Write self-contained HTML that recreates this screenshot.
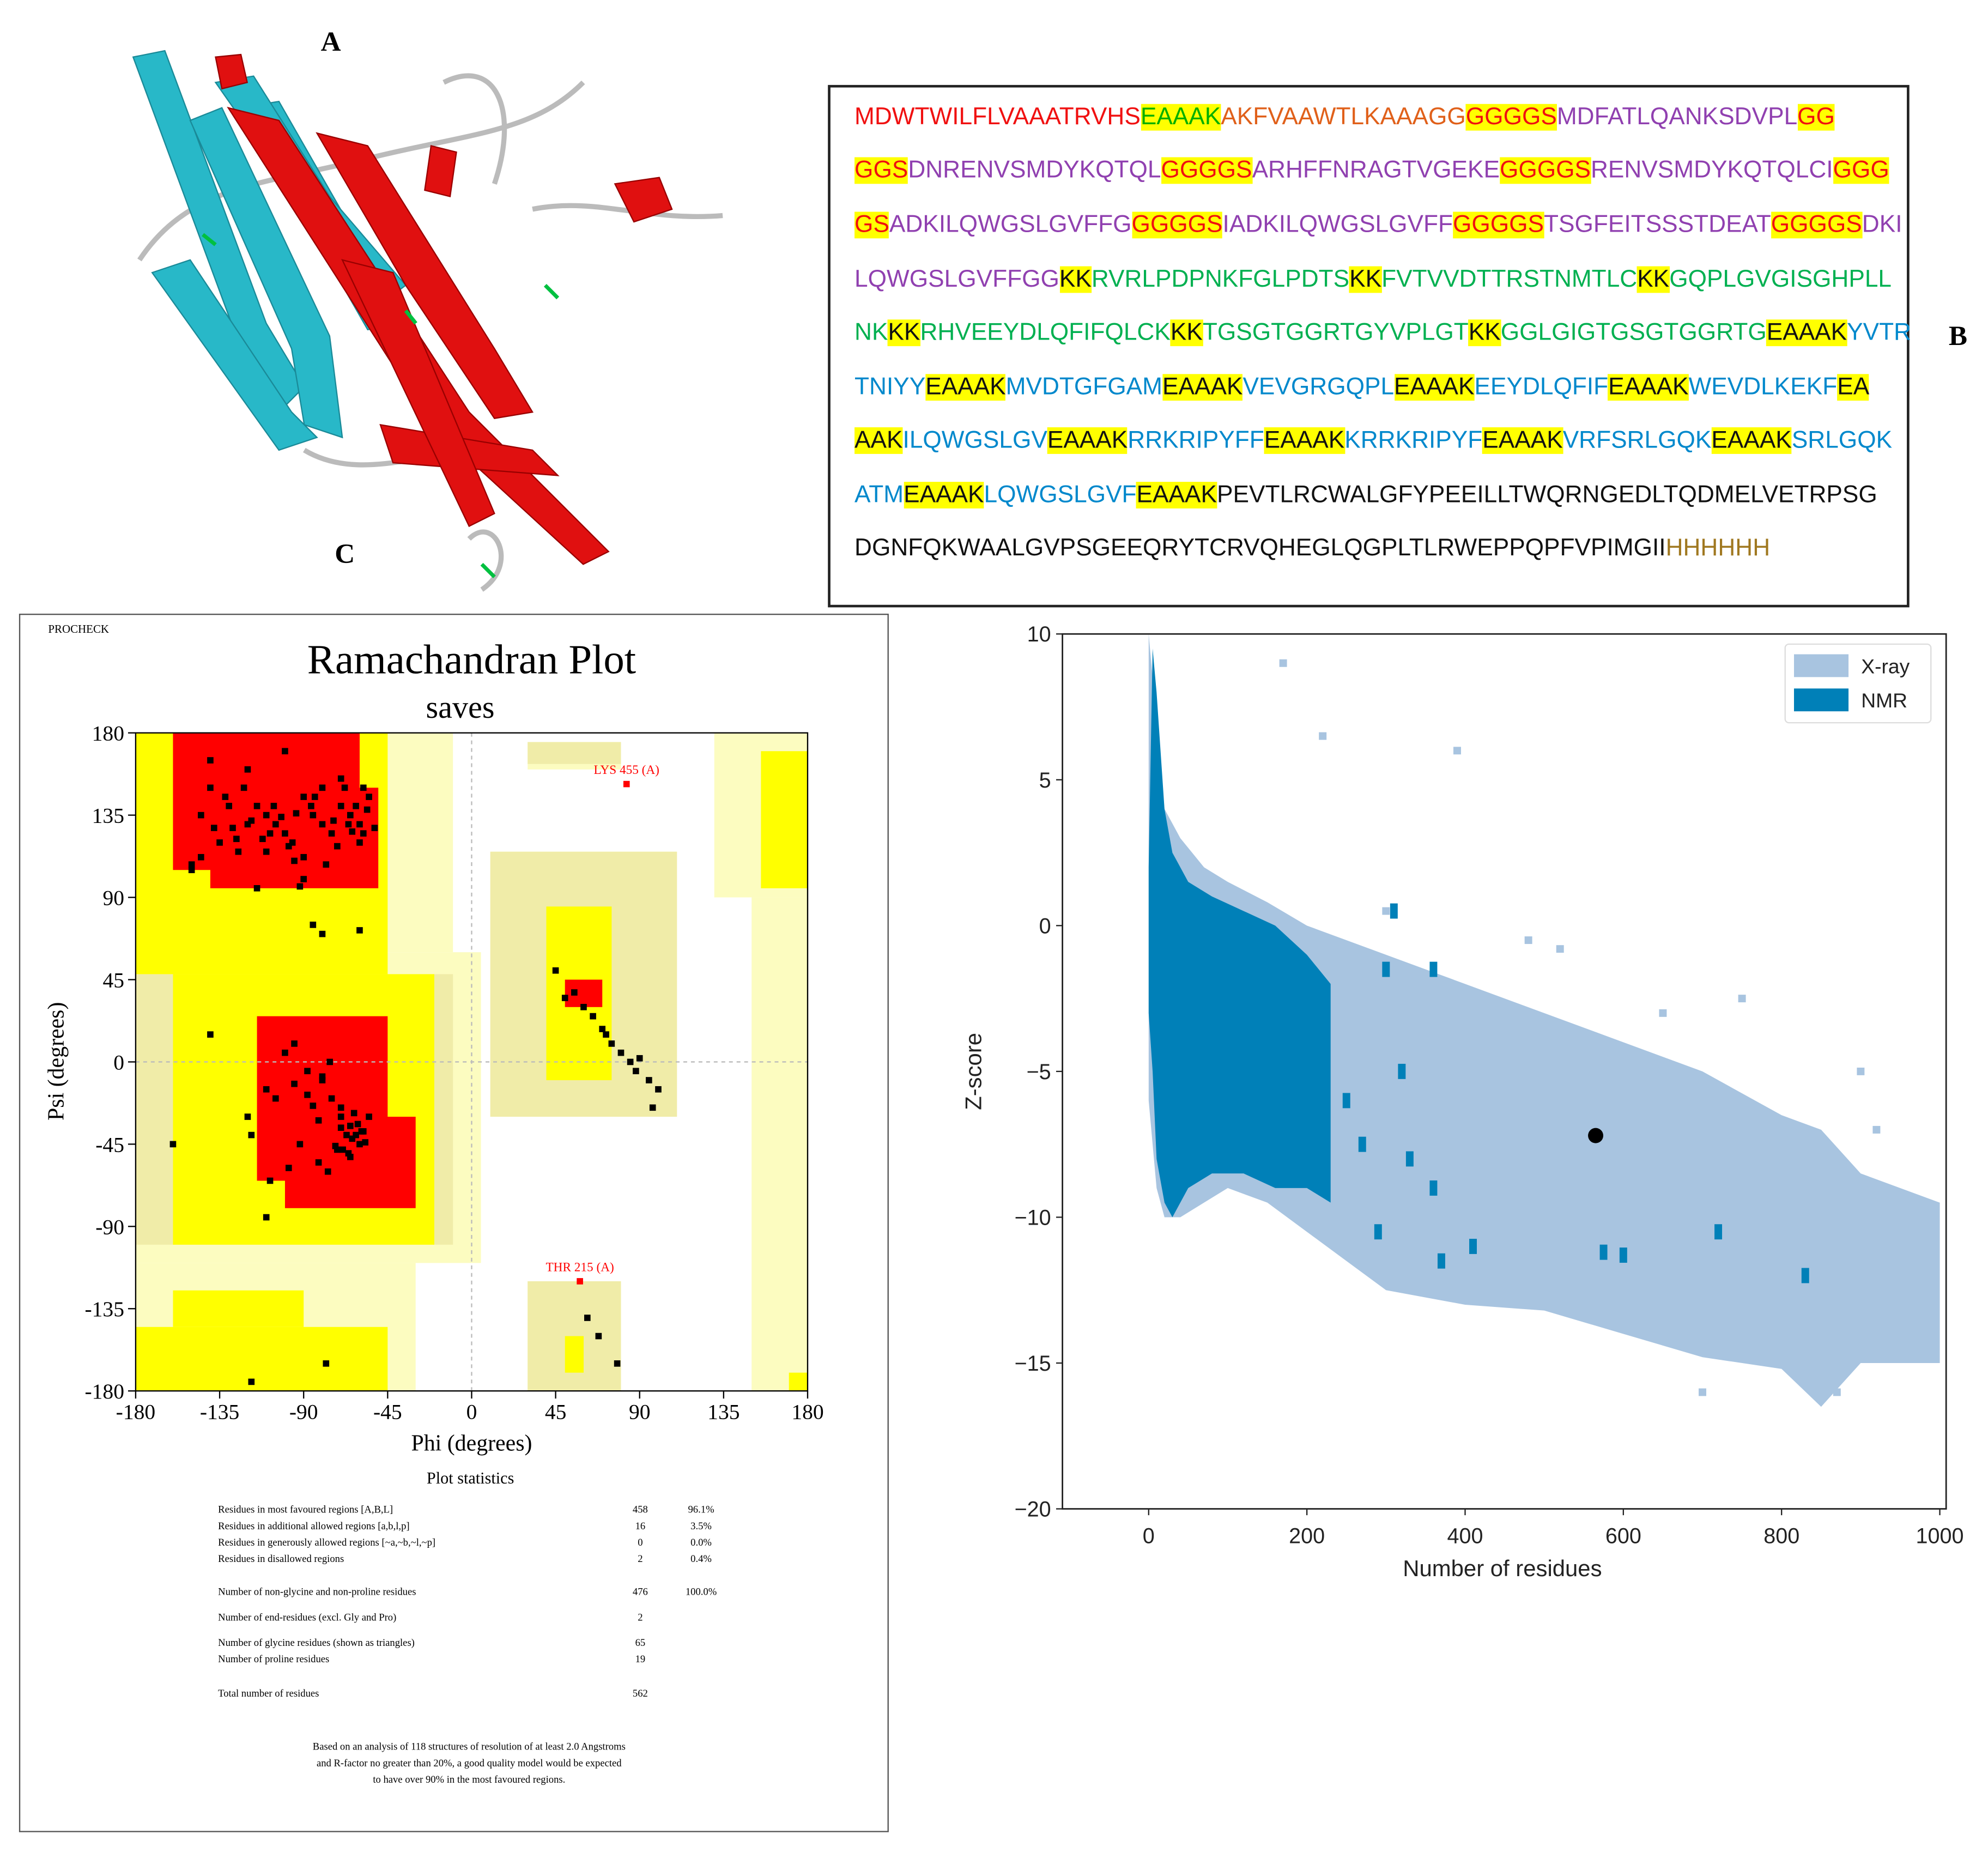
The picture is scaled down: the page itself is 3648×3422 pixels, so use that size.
<!DOCTYPE html>
<html><head><meta charset="utf-8">
<style>
html,body{margin:0;padding:0;background:#fff;width:3648px;height:3422px;overflow:hidden}
#wrap{position:absolute;left:0;top:0;width:1568px;height:1471px;transform:scale(2.3265);transform-origin:0 0;font-family:"Liberation Sans",sans-serif}
.lbl{position:absolute;font-family:"Liberation Serif",serif;font-weight:bold;font-size:22px}
#seqbox{position:absolute;left:653px;top:67px;width:853px;height:412px;border:2px solid #222;box-sizing:border-box}
.sl{position:absolute;left:19px;font-size:19px;letter-spacing:0px;white-space:nowrap;font-family:"Liberation Sans",sans-serif}
.h{background:#ffff00}
.r{color:#f01010}.o{color:#e0601a}.p{color:#9040b0}.g{color:#00b050}.b{color:#0088cc}.k{color:#111}.br{color:#a07820}.gr{color:#00b000}
</style></head><body>
<div id="wrap">

<div class="lbl" style="left:253px;top:20px">A</div>
<div class="lbl" style="left:264px;top:424px">C</div>
<div class="lbl" style="left:1537px;top:252px">B</div>

<svg style="position:absolute;left:90px;top:25px" width="510" height="450">
 <g fill="none" stroke="#bbb" stroke-width="4">
  <path d="M20 180 C60 120 120 120 200 100 S330 80 370 40"/>
  <path d="M260 40 C300 20 320 60 300 120"/>
  <path d="M330 140 C380 130 420 150 480 145"/>
  <path d="M150 330 C200 360 260 320 300 340"/>
  <path d="M280 400 C300 380 320 420 290 440"/>
 </g>
 <g fill="#28b8c8" stroke="#1a8a98" stroke-width="1">
  <path d="M15 20 L40 15 L120 230 L150 280 L130 300 L100 250 Z"/>
  <path d="M60 70 L85 60 L170 240 L180 320 L150 310 L140 250 Z"/>
  <path d="M100 60 L130 55 L230 230 L200 235 Z"/>
  <path d="M30 190 L60 180 L140 300 L160 320 L130 330 Z"/>
  <path d="M80 40 L110 35 L170 130 L230 200 L210 215 L150 140 Z"/>
 </g>
 <g fill="#e01010" stroke="#900" stroke-width="1">
  <path d="M90 60 L130 70 L280 300 L390 410 L370 420 L250 310 Z"/>
  <path d="M160 80 L200 90 L300 250 L330 300 L300 305 L230 200 Z"/>
  <path d="M210 310 L330 330 L350 350 L220 340 Z"/>
  <path d="M180 180 L220 190 L300 380 L280 390 Z"/>
  <path d="M395 120 L430 115 L440 140 L410 150 Z"/>
  <path d="M250 90 L270 95 L265 130 L245 125 Z"/>
  <path d="M80 20 L100 18 L105 40 L85 45 Z"/>
 </g>
 <g stroke="#00c040" stroke-width="3" fill="none">
  <path d="M70 160 l10 8"/><path d="M230 220 l8 10"/><path d="M340 200 l10 10"/><path d="M290 420 l10 10"/>
 </g>
</svg>

<div id="seqbox">
 <div class="sl" style="top:13px"><span class="r">MDWTWILFLVAAATRVHS</span><span class="h gr">EAAAK</span><span class="o">AKFVAAWTLKAAAGG</span><span class="h r">GGGGS</span><span class="p">MDFATLQANKSDVPL</span><span class="h r">GG</span></div>
 <div class="sl" style="top:55px"><span class="h r">GGS</span><span class="p">DNRENVSMDYKQTQL</span><span class="h r">GGGGS</span><span class="p">ARHFFNRAGTVGEKE</span><span class="h r">GGGGS</span><span class="p">RENVSMDYKQTQLCI</span><span class="h r">GGG</span></div>
 <div class="sl" style="top:98px"><span class="h r">GS</span><span class="p">ADKILQWGSLGVFFG</span><span class="h r">GGGGS</span><span class="p">IADKILQWGSLGVFF</span><span class="h r">GGGGS</span><span class="p">TSGFEITSSSTDEAT</span><span class="h r">GGGGS</span><span class="p">DKI</span></div>
 <div class="sl" style="top:141px"><span class="p">LQWGSLGVFFGG</span><span class="h k">KK</span><span class="g">RVRLPDPNKFGLPDTS</span><span class="h k">KK</span><span class="g">FVTVVDTTRSTNMTLC</span><span class="h k">KK</span><span class="g">GQPLGVGISGHPLL</span></div>
 <div class="sl" style="top:183px"><span class="g">NK</span><span class="h k">KK</span><span class="g">RHVEEYDLQFIFQLCK</span><span class="h k">KK</span><span class="g">TGSGTGGRTGYVPLGT</span><span class="h k">KK</span><span class="g">GGLGIGTGSGTGGRTG</span><span class="h k">EAAAK</span><span class="b">YVTR</span></div>
 <div class="sl" style="top:226px"><span class="b">TNIYY</span><span class="h k">EAAAK</span><span class="b">MVDTGFGAM</span><span class="h k">EAAAK</span><span class="b">VEVGRGQPL</span><span class="h k">EAAAK</span><span class="b">EEYDLQFIF</span><span class="h k">EAAAK</span><span class="b">WEVDLKEKF</span><span class="h k">EA</span></div>
 <div class="sl" style="top:268px"><span class="h k">AAK</span><span class="b">ILQWGSLGV</span><span class="h k">EAAAK</span><span class="b">RRKRIPYFF</span><span class="h k">EAAAK</span><span class="b">KRRKRIPYF</span><span class="h k">EAAAK</span><span class="b">VRFSRLGQK</span><span class="h k">EAAAK</span><span class="b">SRLGQK</span></div>
 <div class="sl" style="top:311px"><span class="b">ATM</span><span class="h k">EAAAK</span><span class="b">LQWGSLGVF</span><span class="h k">EAAAK</span><span class="k">PEVTLRCWALGFYPEEILLTWQRNGEDLTQDMELVETRPSG</span></div>
 <div class="sl" style="top:353px"><span class="k">DGNFQKWAALGVPSGEEQRYTCRVQHEGLQGPLTLRWEPPQPFVPIMGII</span><span class="br">HHHHHH</span></div>
</div>

<div style="position:absolute;left:15px;top:484px;width:686px;height:961px;border:1.5px solid #555;box-sizing:border-box"></div>
<svg id="rama" style="position:absolute;left:0;top:0" width="720" height="1460"></svg>

<svg id="zs" style="position:absolute;left:0;top:0" width="1568" height="1471"></svg>

<script>
// ---------- Ramachandran data ----------
const ramaPale=[[-180,-10,60,180],[-180,5,-110,60],[-180,-30,-180,-110],[10,110,-30,115],[30,80,160,175],[30,80,-180,-120],[130,180,90,180],[150,180,-180,90]];
const ramaKhaki=[[-180,-10,-100,48],[10,110,-30,115],[30,80,-180,-120],[30,80,163,175]];
const ramaYellow=[[-180,-45,48,180],[-160,-20,-100,48],[-180,-45,-180,-145],[-160,-90,-145,-125],[40,75,-10,85],[50,60,-170,-150],[155,180,95,170],[170,180,-180,-170]];
const ramaRed=[[-160,-60,105,180],[-140,-50,95,150],[-115,-45,-65,25],[-100,-30,-80,-30],[50,70,30,45]];
const phiPts=[-140,-130,-120,-110,-100,-90,-80,-70,-65,-60,-135,-125,-115,-105,-95,-85,-75,-68,-62,-140,-120,-100,-80,-70,-150,-110,-90,-66,-58,-55,-150,-145,-115,-92,-85,-80,-60,-100,-95,-88,-80,-75,-70,-65,-62,-60,-58,-55,-66,-64,-70,-110,-105,-120,-118,-92,-82,-72,-140,-108,-110,-160,-77,-98,45,50,55,60,65,70,72,75,80,85,88,90,95,100,97,62,68,78,-78,-118,
 -128,-112,-98,-86,-74,-64,-56,-132,-122,-108,-96,-84,-72,-60,-145,-138,-126,-102,-90,-78,-58,-52,-118,-106,-94,-82,-70,-63,-57,-67,-61,-69,-59,-65,-73,-85,-95,-76,-80,-88];
const psiPts=[150,140,130,135,125,145,130,140,135,120,120,115,140,130,110,135,125,150,140,165,160,170,150,155,105,115,100,130,125,145,108,112,95,96,75,70,72,5,10,-5,-10,-20,-30,-35,-40,-45,-38,-30,-50,-42,-25,-15,-20,-30,-40,-45,-55,-48,15,-65,-85,-45,-60,-58,50,35,38,30,25,18,15,10,5,0,-5,2,-10,-15,-25,-140,-150,-165,-165,-175,
 128,122,118,140,132,126,138,145,150,125,120,145,118,130,135,128,122,134,112,108,150,128,132,140,136,-32,-36,-28,-44,-40,-34,-48,-38,-52,-46,-24,-12,0,-8,-18];
// ---------- Z-score data ----------
const xrayRes=[0,10,20,40,70,100,150,200,250,300,400,500,600,700,800,850,900,1000];
const xrayHi=[10,7,4,3,2,1.5,0.8,0,-0.5,-1,-2,-3,-4,-5,-6.5,-7,-8.5,-9.5];
const xrayLo=[-6,-9,-10,-10,-9.5,-9,-9.5,-10.5,-11.5,-12.5,-13,-13.2,-14,-14.8,-15.2,-16.5,-15,-15];
const nmrRes=[0,5,10,20,30,50,80,120,160,200,230];
const nmrHi=[2,9.5,8,4,2.5,1.5,1,0.5,0,-1,-2];
const nmrLo=[-3,-5,-8,-9.5,-10,-9,-8.5,-8.5,-9,-9,-9.5];
const nmrOutRes=[290,300,310,360,370,410,575,600,720,830,250,270,320,330,360];
const nmrOutZ=[-10.5,-1.5,0.5,-1.5,-11.5,-11,-11.2,-11.3,-10.5,-12,-6,-7.5,-5,-8,-9];
const xrayOutRes=[170,390,220,300,520,750,900,920,870,960,850,480,650,700];
const xrayOutZ=[9,6,6.5,0.5,-0.8,-2.5,-5,-7,-16,-13,-16,-0.5,-3,-16];
const myRes=[565];const myZ=[-7.2];
const zXTicks=[0,200,400,600,800,1000];
const zYTicks=[10,5,0,-5,-10,-15,-20];

const NS='http://www.w3.org/2000/svg';
function mk(p,tag,attrs,txt){const e=document.createElementNS(NS,tag);for(const k in attrs)e.setAttribute(k,attrs[k]);if(txt!==undefined)e.textContent=txt;p.appendChild(e);return e;}

// ---- Ramachandran ----
(function(){
 const s=document.getElementById('rama');
 const X=v=>107+(v+180)/360*530, Y=v=>578+(180-v)/360*519;
 const t1=mk(s,'text',{x:38,y:499,'font-size':9,'font-family':'Liberation Serif'},'PROCHECK');
 
 const t2=mk(s,'text',{x:372,y:531,'font-size':33,'text-anchor':'middle','font-family':'Liberation Serif'},'Ramachandran Plot');
 
 const t3=mk(s,'text',{x:363,y:566,'font-size':25,'text-anchor':'middle','font-family':'Liberation Serif'},'saves');
 
 function rects(arr,col,name){arr.forEach(r=>{const e=mk(s,'rect',{x:X(r[0]),y:Y(r[3]),width:X(r[1])-X(r[0]),height:Y(r[2])-Y(r[3]),fill:col});
  });}
 rects(ramaPale,'#fcfcc0','generous-region');
 rects(ramaKhaki,'#f0eca8','generous-region-dark');
 rects(ramaYellow,'#ffff00','allowed-region');
 rects(ramaRed,'#ff0000','core-region');
 mk(s,'line',{x1:X(0),x2:X(0),y1:578,y2:1097,stroke:'#bbb','stroke-dasharray':'3,3'});
 mk(s,'line',{x1:107,x2:637,y1:Y(0),y2:Y(0),stroke:'#bbb','stroke-dasharray':'3,3'});
 const fr=mk(s,'rect',{x:107,y:578,width:530,height:519,fill:'none',stroke:'#000','stroke-width':1});
 
 phiPts.forEach((p,i)=>{const e=mk(s,'rect',{x:X(p)-2.5,y:Y(psiPts[i])-2.5,width:5,height:5,fill:'#000'});
  });
 [[83,152,'LYS 455 (A)'],[58,-120,'THR 215 (A)']].forEach(a=>{mk(s,'rect',{x:X(a[0])-2.5,y:Y(a[1])-2.5,width:5,height:5,fill:'#f00'});
  const e=mk(s,'text',{x:X(a[0]),y:Y(a[1])-8,'font-size':10,fill:'#f00','text-anchor':'middle','font-family':'Liberation Serif'},a[2]);
  });
 [-180,-135,-90,-45,0,45,90,135,180].forEach(v=>{
  mk(s,'line',{x1:X(v),x2:X(v),y1:1097,y2:1103,stroke:'#000'});
  const e=mk(s,'text',{x:X(v),y:1119,'font-size':17,'text-anchor':'middle','font-family':'Liberation Serif'},v);
  
  mk(s,'line',{x1:101,x2:107,y1:Y(v),y2:Y(v),stroke:'#000'});
  const f=mk(s,'text',{x:98,y:Y(v)+6,'font-size':17,'text-anchor':'end','font-family':'Liberation Serif'},v);
  });
 const xl=mk(s,'text',{x:372,y:1144,'font-size':18,'text-anchor':'middle','font-family':'Liberation Serif'},'Phi (degrees)');
 
 const yl=mk(s,'text',{x:0,y:0,'font-size':18,'text-anchor':'middle','font-family':'Liberation Serif',transform:'translate(50,837) rotate(-90)'},'Psi (degrees)');
 
 const st=mk(s,'text',{x:371,y:1170,'font-size':13,'text-anchor':'middle','font-family':'Liberation Serif'},'Plot statistics');
 
 const rows=[[1193,'Residues in most favoured regions  [A,B,L]','458','96.1%'],[1206,'Residues in additional allowed regions  [a,b,l,p]','16','3.5%'],[1219,'Residues in generously allowed regions  [~a,~b,~l,~p]','0','0.0%'],[1232,'Residues in disallowed regions','2','0.4%'],[1258,'Number of non-glycine and non-proline residues','476','100.0%'],[1278,'Number of end-residues (excl. Gly and Pro)','2',''],[1298,'Number of glycine residues (shown as triangles)','65',''],[1311,'Number of proline residues','19',''],[1338,'Total number of residues','562','']];
 rows.forEach(r=>{const e=mk(s,'text',{x:172,y:r[0],'font-size':8,'font-family':'Liberation Serif'},r[1]);
  
  mk(s,'text',{x:505,y:r[0],'font-size':8,'text-anchor':'middle','font-family':'Liberation Serif'},r[2]);
  mk(s,'text',{x:553,y:r[0],'font-size':8,'text-anchor':'middle','font-family':'Liberation Serif'},r[3]);});
 ['Based on an analysis of 118 structures of resolution of at least 2.0 Angstroms','and R-factor no greater than 20%, a good quality model would be expected','to have over 90% in the most favoured regions.'].forEach((t,i)=>{
  const e=mk(s,'text',{x:370,y:1380+i*13,'font-size':8,'text-anchor':'middle','font-family':'Liberation Serif'},t);
  });
})();

// ---- Z-score ----
(function(){
 const s=document.getElementById('zs');
 const L=838,R=1535,T=500,B=1190;
 const X=v=>906+v*0.624, Y=v=>T+(10-v)/30*(B-T);
 function band(res,hi,lo,col,name){let d='M'+res.map((r,i)=>X(r)+','+Y(hi[i])).join(' L');
  for(let i=res.length-1;i>=0;i--)d+=' L'+X(res[i])+','+Y(lo[i]);d+='Z';
  const e=mk(s,'path',{d:d,fill:col});}
 band(xrayRes,xrayHi,xrayLo,'#a8c4e0','xray-cloud');
 xrayOutRes.forEach((r,i)=>{const e=mk(s,'rect',{x:X(r)-3,y:Y(xrayOutZ[i])-3,width:6,height:6,fill:'#a8c4e0'});
  });
 band(nmrRes,nmrHi,nmrLo,'#0080b8','nmr-cloud');
 nmrOutRes.forEach((r,i)=>{const e=mk(s,'rect',{x:X(r)-3,y:Y(nmrOutZ[i])-6,width:6,height:12,fill:'#0080b8'});
  });
 myRes.forEach((r,i)=>{const e=mk(s,'circle',{cx:X(r),cy:Y(myZ[i]),r:6,fill:'#000'});
  });
 const fr=mk(s,'rect',{x:L,y:T,width:R-L,height:B-T,fill:'none',stroke:'#222','stroke-width':1.2});
 
 zXTicks.forEach(v=>{mk(s,'line',{x1:X(v),x2:X(v),y1:B,y2:B+5,stroke:'#222'});
  const e=mk(s,'text',{x:X(v),y:B+27,'font-size':17,'text-anchor':'middle',fill:'#222'},v);
  });
 zYTicks.forEach(v=>{mk(s,'line',{x1:L-5,x2:L,y1:Y(v),y2:Y(v),stroke:'#222'});
  const e=mk(s,'text',{x:L-9,y:Y(v)+6,'font-size':17,'text-anchor':'end',fill:'#222'},v<0?'\u2212'+(-v):v);
  });
 const xl=mk(s,'text',{x:1185,y:1243,'font-size':18,'text-anchor':'middle',fill:'#222'},'Number of residues');
 
 const yl=mk(s,'text',{x:0,y:0,'font-size':18,'text-anchor':'middle',fill:'#222',transform:'translate(774,845) rotate(-90)'},'Z-score');
 
 const lg=mk(s,'rect',{x:1408,y:508,width:115,height:62,fill:'#fff',stroke:'#ddd',rx:3});
 
 [['X-ray','#a8c4e0',516],['NMR','#0080b8',543]].forEach(a=>{
  const r=mk(s,'rect',{x:1415,y:a[2],width:43,height:18,fill:a[1]});
  
  const e=mk(s,'text',{x:1468,y:a[2]+15,'font-size':16,fill:'#222'},a[0]);
  });
})();
</script>
</div>
</body></html>
